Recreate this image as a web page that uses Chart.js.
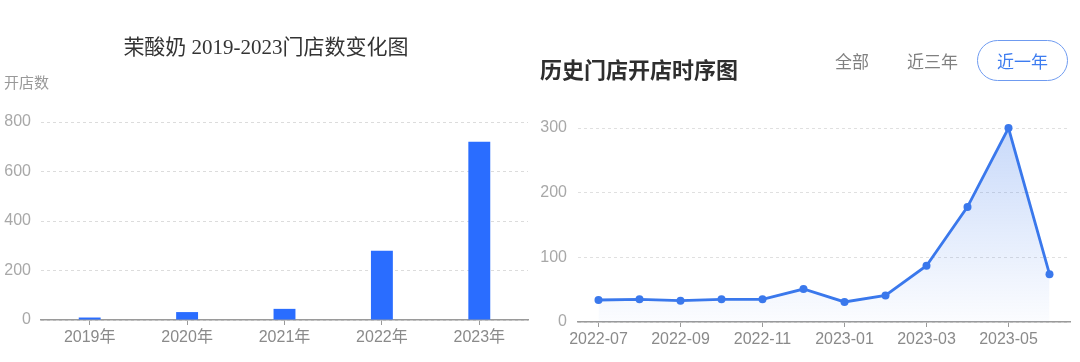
<!DOCTYPE html>
<html>
<head>
<meta charset="utf-8">
<script src="https://cdn.jsdelivr.net/npm/chart.js@4.4.1/dist/chart.umd.min.js"></script>
<style>
  html, body { margin: 0; padding: 0; background: #fff; }
  body { width: 1080px; height: 362px; position: relative; overflow: hidden; font-family: "Liberation Sans", "Noto Sans CJK SC", sans-serif; }
  .abs { position: absolute; white-space: nowrap; }
  #c1wrap { position: absolute; left: 0; top: 0; width: 540px; height: 362px; }
  #c2wrap { position: absolute; left: 540px; top: 0; width: 540px; height: 362px; }
  #t1 { left: 0; width: 532px; text-align: center; top: 34px; font-family: "Liberation Serif", "Noto Sans CJK SC", serif; font-size: 21px; color: #333; line-height: 26px; }
  #ylab { left: 4px; top: 73px; font-size: 15px; color: #999; line-height: 20px; }
  #t2 { left: 540px; top: 55px; font-size: 22px; font-weight: bold; color: #2e2e2e; line-height: 26px; font-family: "Noto Sans CJK SC", sans-serif; }
  .btn { font-size: 17px; color: #808080; line-height: 22px; font-family: "Noto Sans CJK SC", sans-serif; }
  #b1 { left: 835px; top: 50px; }
  #b2 { left: 907px; top: 50px; }
  #b3 { left: 977px; top: 40px; width: 89px; height: 39px; border: 1.5px solid #6f9bf0; border-radius: 21px; color: #3d7cf0; text-align: center; line-height: 39px; }
</style>
</head>
<body>
<div id="c1wrap"><canvas id="c1"></canvas></div>
<div id="c2wrap"><canvas id="c2"></canvas></div>
<div class="abs" id="t1">茉酸奶 2019-2023门店数变化图</div>
<div class="abs" id="ylab">开店数</div>
<div class="abs" id="t2">历史门店开店时序图</div>
<div class="abs btn" id="b1">全部</div>
<div class="abs btn" id="b2">近三年</div>
<div class="abs btn" id="b3">近一年</div>
<script>
// ---- data ----
const yearLabels = ["2019年", "2020年", "2021年", "2022年", "2023年"];
const yearlyStores = [10, 32, 45, 280, 720];

const monthLabels = ["2022-07", "2022-08", "2022-09", "2022-10", "2022-11", "2022-12",
                     "2023-01", "2023-02", "2023-03", "2023-04", "2023-05", "2023-06"];
const monthlyStores = [34, 35, 33, 35, 35, 51, 31, 41, 87, 178, 300, 74];

const barYTicks = [0, 200, 400, 600, 800];
const lineYTicks = [0, 100, 200, 300];

const tickFont = { family: "'Liberation Sans', 'Noto Sans CJK SC', sans-serif", size: 16 };

// ---- left: bar chart ----
new Chart(document.getElementById('c1'), {
  type: 'bar',
  data: {
    labels: yearLabels,
    datasets: [{
      data: yearlyStores,
      backgroundColor: '#2a6dff',
      borderWidth: 0,
      barPercentage: 0.45,
      categoryPercentage: 0.5
    }]
  },
  options: {
    responsive: true,
    maintainAspectRatio: false,
    animation: false,
    layout: { padding: { top: 122, right: 12, bottom: 0, left: 0 } },
    plugins: { legend: { display: false }, tooltip: { enabled: false } },
    scales: {
      x: {
        grid: { drawOnChartArea: false, drawTicks: true, tickLength: 5, tickColor: '#9a9a9a', offset: false },
        border: { display: true, color: '#9a9a9a', width: 1.5 },
        ticks: { color: '#8a8a8a', font: tickFont, padding: 3, maxRotation: 0, autoSkip: false },
        afterFit: s => { s.height = 42; }
      },
      y: {
        min: barYTicks[0],
        max: barYTicks[barYTicks.length - 1],
        afterBuildTicks: s => { s.ticks = barYTicks.map(v => ({ value: v })); },
        grid: { color: '#dcdcdc', drawTicks: false, lineWidth: 1 },
        border: { display: false, dash: [3, 3] },
        ticks: { color: '#a8a8a8', font: tickFont, padding: 10 },
        afterFit: s => { s.width = 41; }
      }
    }
  }
});

// ---- right: line chart ----
new Chart(document.getElementById('c2'), {
  type: 'line',
  data: {
    labels: monthLabels,
    datasets: [{
      data: monthlyStores,
      borderColor: '#3a78ec',
      borderWidth: 2.8,
      pointBackgroundColor: '#3a78ec',
      pointBorderColor: '#3a78ec',
      pointRadius: 4,
      pointBorderWidth: 0,
      tension: 0,
      clip: false,
      fill: 'origin',
      backgroundColor: (ctx) => {
        const chart = ctx.chart;
        const area = chart.chartArea;
        if (!area) return 'rgba(59,120,236,0.15)';
        const g = chart.ctx.createLinearGradient(0, area.top, 0, area.bottom);
        g.addColorStop(0, 'rgba(59,120,236,0.28)');
        g.addColorStop(1, 'rgba(59,120,236,0.02)');
        return g;
      }
    }]
  },
  options: {
    responsive: true,
    maintainAspectRatio: false,
    animation: false,
    layout: { padding: { top: 128, right: 10, bottom: 0, left: 0 } },
    plugins: { legend: { display: false }, tooltip: { enabled: false } },
    scales: {
      x: {
        offset: true,
        grid: {
          drawOnChartArea: false, drawTicks: true, tickLength: 5,
          tickColor: c => (c.index % 2 === 0 ? '#9a9a9a' : 'rgba(0,0,0,0)'),
          offset: false
        },
        border: { display: true, color: '#9a9a9a', width: 1.5 },
        ticks: {
          color: '#8a8a8a', font: tickFont, padding: 3, maxRotation: 0, autoSkip: false,
          callback: function (v, i) { return i % 2 === 0 ? this.getLabelForValue(v) : ''; }
        },
        afterFit: s => { s.height = 40; }
      },
      y: {
        min: lineYTicks[0],
        max: lineYTicks[lineYTicks.length - 1],
        afterBuildTicks: s => { s.ticks = lineYTicks.map(v => ({ value: v })); },
        grid: { color: '#e0e0e0', drawTicks: false, lineWidth: 1 },
        border: { display: false, dash: [3, 3] },
        ticks: { color: '#a8a8a8', font: tickFont, padding: 11 },
        afterFit: s => { s.width = 38; }
      }
    }
  }
});
</script>
</body>
</html>
